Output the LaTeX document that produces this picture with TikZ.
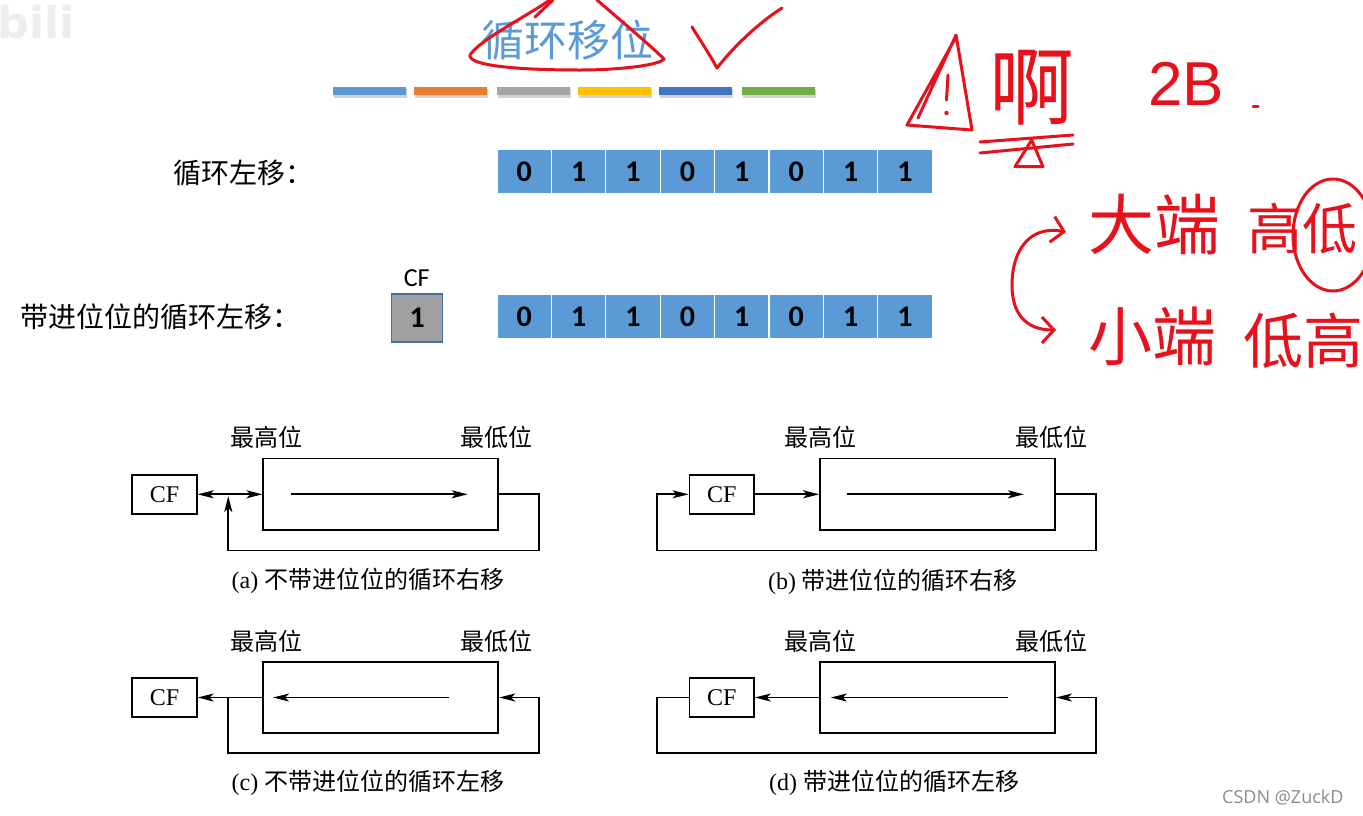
\documentclass[tikz,border=0pt]{standalone}
\usepackage{fontspec}
\setmainfont{Liberation Serif}
\newfontfamily\cjk{Noto Sans CJK SC}
\newfontfamily\calib{Carlito}
\newfontfamily\osans{Open Sans}
\newfontfamily\lsans{Liberation Sans}
\newfontfamily\djs{DejaVu Sans}
\usetikzlibrary{arrows.meta}
\definecolor{cellblue}{HTML}{5B9BD5}
\definecolor{barorange}{HTML}{ED7D31}
\definecolor{bargray}{HTML}{A5A5A5}
\definecolor{baryellow}{HTML}{FFC000}
\definecolor{bardblue}{HTML}{4472C4}
\definecolor{bargreen}{HTML}{70AD47}
\definecolor{cfgrayfill}{HTML}{A0A0A0}
\definecolor{cfgrayline}{HTML}{41719C}
\definecolor{hand}{HTML}{E8101A}
\begin{document}
\begin{tikzpicture}[x=1pt,y=-1pt,font=\cjk,
  cell/.style={draw=white, line width=1.2pt, fill=cellblue, minimum width=54.4pt, minimum height=44.5pt, inner sep=0pt, font=\calib\bfseries\fontsize{30}{30}\selectfont, text=black},
  cfgray/.style={draw=cfgrayline, line width=1.2pt, fill=cfgrayfill, minimum width=51pt, minimum height=48pt, inner sep=0pt, font=\calib\bfseries\fontsize{30}{30}\selectfont},
  reg/.style={draw, line width=1.8pt, minimum width=235pt, minimum height=71.5pt, inner sep=0pt},
  cfreg/.style={draw, line width=1.8pt, minimum width=64.5pt, minimum height=39pt, inner sep=0pt, font=\rmfamily\fontsize{24}{24}\selectfont},
  lbl/.style={inner sep=0pt, font=\cjk\fontsize{24}{24}\selectfont},
  capt/.style={inner sep=0pt, font=\rmfamily\fontsize{24}{24}\selectfont},
  arr/.style={line width=1.8pt, -{Stealth[length=16pt,width=8pt,inset=4pt]}},
  biarr/.style={line width=1.8pt, {Stealth[length=16pt,width=8pt,inset=4pt]}-{Stealth[length=16pt,width=8pt,inset=4pt]}},
  handline/.style={draw=hand, line width=3pt, line cap=round, line join=round},
  handtext/.style={text=hand, inner sep=0pt}]
\useasboundingbox[fill=white] (0,0) rectangle (1363,815);

% watermark
\node[text=black!7, font=\djs\bfseries\fontsize{44}{44}\selectfont, inner sep=0pt] (wm) at (36,22) {bili};

% title and bars
\node[text=cellblue, font=\cjk\fontsize{43}{43}\selectfont, inner sep=0pt] (title) at (567.5,40) {循环移位};
\foreach \c/\xa in {cellblue/333, barorange/414, bargray/497, baryellow/578, bardblue/659, bargreen/742} {
  \fill[black!18] (\xa+1,89) rectangle (\xa+74,97.5);
  \fill[\c] (\xa,86.7) rectangle (\xa+73,95);
}

% row labels
\node[anchor=west, inner sep=0pt, font=\cjk\fontsize{28}{28}\selectfont] (lrot) at (173,173) {循环左移：};
\node[anchor=west, inner sep=0pt, font=\cjk\fontsize{28}{28}\selectfont] (lrotc) at (20.5,316.7) {带进位位的循环左移：};

% bit rows
\foreach \b [count=\i from 0] in {0,1,1,0,1,0,1,1} {
  \node[cell] (ra\i) at ({497+54.4*(\i+0.5)},171.7) {\b};
  \node[cell] (rb\i) at ({497+54.4*(\i+0.5)},316.7) {\b};
}
\node[cfgray] (cfg) at (417.2,318) {1};
\node[font=\calib\fontsize{26}{26}\selectfont, inner sep=0pt] (cflbl) at (416.7,278) {CF};

% (a)
\node[cfreg] (cfa) at (164.5,494.3) {CF};
\node[reg] (rga) at (380.8,494.3) {};
\node[lbl] (hia) at (266,437) {最高位};
\node[lbl] (loa) at (496,437) {最低位};
\draw[arr] ([xshift=28.5pt]rga.west) -- ([xshift=-31.5pt]rga.east);
\draw[biarr] (cfa.east) -- (rga.west);
\coordinate (ja) at (228.3,496);
\draw[arr] (rga.east) -- (539,494.3) -- (539,550.5) -- (228.3,550.5) -- (ja);
\node[capt] (capa) at (368,580.5) {(a) {\cjk 不带进位位的循环右移}};

% (b)
\node[cfreg] (cfb) at (721.7,494.3) {CF};
\node[reg] (rgb) at (937.5,494.3) {};
\node[lbl] (hib) at (820,437) {最高位};
\node[lbl] (lob) at (1051,437) {最低位};
\draw[arr] ([xshift=28pt]rgb.west) -- ([xshift=-32pt]rgb.east);
\draw[arr] (cfb.east) -- (rgb.west);
\draw[arr] (rgb.east) -- (1095.7,494.3) -- (1095.7,550.5) -- (656.7,550.5) -- (656.7,494.3) -- (cfb.west);
\node[capt] (capb) at (893,581.5) {(b) {\cjk 带进位位的循环右移}};

% (c)
\node[cfreg] (cfc) at (164.5,697.5) {CF};
\node[reg] (rgc) at (380.8,697.5) {};
\node[lbl] (hic) at (266,641.7) {最高位};
\node[lbl] (loc) at (496,641.7) {最低位};
\draw[arr] ([xshift=-50.3pt]rgc.east) -- ([xshift=10.7pt]rgc.west);
\draw[arr] (rgc.west) -- (cfc.east);
\coordinate (jc) at (228.3,697.5);
\draw[arr] (jc) -- (228.3,753.3) -- (539,753.3) -- (539,697.5) -- (rgc.east);
\node[capt] (capc) at (368,783) {(c) {\cjk 不带进位位的循环左移}};

% (d)
\node[cfreg] (cfd) at (721.7,697.5) {CF};
\node[reg] (rgd) at (937.5,697.5) {};
\node[lbl] (hid) at (820,641.7) {最高位};
\node[lbl] (lod) at (1051,641.7) {最低位};
\draw[arr] ([xshift=-48.3pt]rgd.east) -- ([xshift=11.7pt]rgd.west);
\draw[arr] (rgd.west) -- (cfd.east);
\draw[arr] (cfd.west) -- (656.7,697.5) -- (656.7,753.3) -- (1095.7,753.3) -- (1095.7,697.5) -- (rgd.east);
\node[capt] (capd) at (894,783) {(d) {\cjk 带进位位的循环左移}};

% credit
\node[anchor=west, text=black!45, font=\osans\fontsize{18}{18}\selectfont, inner sep=0pt] (csdn) at (1222,797) {CSDN @ZuckD};

% red handwriting
\draw[handline] (550,0) .. controls (520,20) and (480,40) .. (470,55) .. controls (468,66) and (520,70) .. (580,70) .. controls (620,70) and (660,65) .. (664,59) .. controls (650,45) and (620,20) .. (597,0);
\draw[handline] (535,17) -- (553,0);
\draw[handline] (692,27) .. controls (700,40) and (710,55) .. (717,68) .. controls (735,45) and (760,22) .. (782,8);

\draw[handline] (918,118) -- (956,35) -- (972,130) -- (907,125) -- (956,37);
\draw[handline] (948,75) -- (946.5,100);
\fill[hand] (946.5,113) circle[radius=2.2pt];
\node[handtext, font=\cjk\fontsize{85}{85}\selectfont] (ah) at (1032,88) {啊};
\draw[handline] (980,142) -- (1073,135);
\draw[handline] (980,153) -- (1073,144);
\draw[handline] (1031.7,140) -- (1015,166.7) -- (1043,166.7) -- cycle;
\node[handtext, font=\lsans\fontsize{62}{62}\selectfont] (twob) at (1186,84) {2B};
\draw[handline] (1253,106) -- (1258,106);

\node[handtext, font=\cjk\fontsize{66}{66}\selectfont] (dad) at (1154,225) {大端};
\node[handtext, font=\cjk\fontsize{55}{55}\selectfont] (gd) at (1302,229) {高低};
\draw[handline] (1333,235) ellipse[x radius=40pt, y radius=56pt];
\node[handtext, font=\cjk\fontsize{64}{64}\selectfont] (xd) at (1152,336) {小端};
\node[handtext, font=\cjk\fontsize{60}{60}\selectfont] (dg) at (1303,341) {低高};
\draw[handline, {Straight Barb[length=12pt,width=26pt]}-{Straight Barb[length=12pt,width=26pt]}] (1066,232) .. controls (1030,225) and (1012,250) .. (1012,285) .. controls (1012,318) and (1030,330) .. (1056,330);
\end{tikzpicture}
\end{document}
